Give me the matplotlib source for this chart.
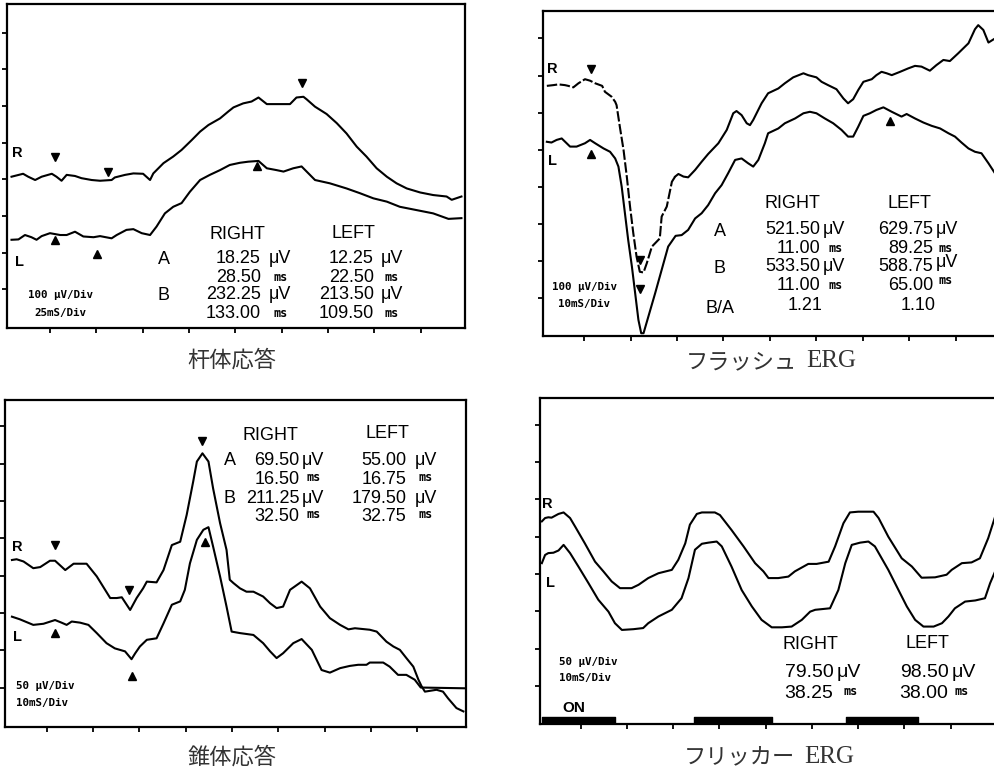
import matplotlib
matplotlib.use("Agg")
import matplotlib.pyplot as plt

# All traces in screen divisions
# (x: time divisions, y: amplitude divisions)

# ---- 杆体応答 (rod response), 100 uV/div, 25 ms/div
rod_r_x = [0.17, 0.42, 0.53, 0.68, 0.82, 1.04, 1.14, 1.25, 1.36, 1.54, 1.68, 1.90, 2.08, 2.33, 2.40, 2.62, 2.80, 3.01,
           3.16, 3.23, 3.45, 3.66, 3.84, 4.06, 4.24, 4.42, 4.67, 4.85, 4.96, 5.17, 5.35, 5.50, 5.68, 5.89, 6.18, 6.32,
           6.47, 6.54, 6.72, 6.97, 7.19, 7.40, 7.62, 7.83, 8.05, 8.27, 8.48, 8.70, 8.99, 9.27, 9.56, 9.67, 9.88]
rod_r_y = [4.07, 4.15, 4.07, 3.98, 4.07, 4.15, 4.07, 3.96, 4.12, 4.09, 4.03, 3.98, 3.96, 3.98, 4.05, 4.12, 4.16, 4.15,
           3.98, 4.16, 4.44, 4.62, 4.80, 5.07, 5.30, 5.48, 5.66, 5.85, 5.96, 6.07, 6.12, 6.23, 6.05, 6.05, 6.05, 6.23,
           6.25, 6.18, 5.98, 5.78, 5.53, 5.25, 4.89, 4.62, 4.30, 4.07, 3.89, 3.75, 3.64, 3.57, 3.53, 3.44, 3.53]
rod_l_x = [0.17, 0.32, 0.46, 0.60, 0.71, 0.82, 1.00, 1.22, 1.36, 1.54, 1.72, 1.94, 2.08, 2.33, 2.44, 2.65, 2.80, 2.98,
           3.16, 3.30, 3.48, 3.66, 3.84, 4.02, 4.24, 4.45, 4.67, 4.88, 5.10, 5.28, 5.50, 5.68, 5.89, 6.04, 6.25, 6.43,
           6.72, 7.04, 7.40, 7.69, 7.98, 8.27, 8.55, 8.91, 9.27, 9.60, 9.88]
rod_l_y = [2.35, 2.36, 2.48, 2.42, 2.35, 2.45, 2.53, 2.48, 2.48, 2.57, 2.44, 2.42, 2.45, 2.39, 2.48, 2.62, 2.64, 2.53,
           2.48, 2.71, 3.07, 3.25, 3.35, 3.66, 3.98, 4.12, 4.25, 4.39, 4.45, 4.48, 4.50, 4.30, 4.25, 4.21, 4.30, 4.35,
           3.98, 3.89, 3.75, 3.62, 3.48, 3.39, 3.25, 3.16, 3.07, 2.92, 2.94]
rod_r_mark_x = [1.11, 2.26, 6.43]
rod_r_mark_y = [4.62, 4.21, 6.62]
rod_l_mark_x = [1.11, 2.02, 5.47]
rod_l_mark_y = [2.35, 1.95, 4.35]
rod_right = ["18.25", "28.50", "232.25", "133.00"]
rod_left = ["12.25", "22.50", "213.50", "109.50"]

# ---- フラッシュ ERG, 100 uV/div, 10 ms/div
flash_r_x = [0.20, 0.34, 0.45, 0.59, 0.66, 0.77, 0.88, 1.02, 1.13, 1.24, 1.39, 1.45, 1.59, 1.67, 1.70, 1.77, 1.85,
             1.92, 1.99, 2.06, 2.13, 2.20, 2.28, 2.35, 2.46, 2.63, 2.67, 2.78, 2.89, 2.96, 3.03, 3.14, 3.24, 3.39,
             3.53, 3.67, 3.89, 4.07, 4.21, 4.28, 4.39, 4.50, 4.57, 4.64, 4.82, 4.96, 5.18, 5.32, 5.50, 5.72, 5.82,
             6.00, 6.11, 6.25, 6.43, 6.58, 6.68, 6.79, 6.90, 7.01, 7.19, 7.29, 7.40, 7.51, 7.62, 7.80, 7.97, 8.12,
             8.26, 8.44, 8.58, 8.73, 8.87, 9.05, 9.27, 9.41, 9.48, 9.59, 9.70, 9.84]
flash_r_y = [6.72, 6.74, 6.76, 6.74, 6.72, 6.68, 6.79, 6.90, 6.86, 6.79, 6.72, 6.56, 6.43, 6.29, 6.20, 5.62, 4.99,
             4.27, 3.46, 2.74, 2.11, 1.70, 1.68, 1.93, 2.38, 2.60, 3.19, 3.46, 4.13, 4.27, 4.34, 4.27, 4.25, 4.45,
             4.67, 4.88, 5.17, 5.53, 5.98, 6.04, 5.93, 5.71, 5.66, 5.80, 6.25, 6.52, 6.65, 6.79, 6.95, 7.06, 7.01,
             6.95, 6.83, 6.74, 6.63, 6.38, 6.25, 6.36, 6.61, 6.83, 6.90, 7.01, 7.10, 7.06, 7.01, 7.10, 7.19, 7.26,
             7.24, 7.13, 7.28, 7.42, 7.39, 7.60, 7.87, 8.25, 8.36, 8.23, 7.89, 8.00]
flash_l_x = [0.20, 0.30, 0.41, 0.52, 0.70, 0.84, 1.02, 1.13, 1.24, 1.42, 1.56, 1.67, 1.74, 1.81, 1.88, 1.95, 2.03,
             2.10, 2.17, 2.23, 2.28, 2.53, 2.81, 2.97, 3.10, 3.24, 3.39, 3.53, 3.67, 3.82, 3.96, 4.10, 4.25, 4.39,
             4.53, 4.64, 4.75, 4.89, 4.96, 5.18, 5.32, 5.54, 5.72, 5.86, 6.00, 6.18, 6.36, 6.54, 6.68, 6.79, 6.90,
             7.01, 7.15, 7.29, 7.44, 7.62, 7.83, 7.94, 8.12, 8.30, 8.48, 8.66, 8.84, 8.98, 9.12, 9.27, 9.41, 9.55,
             9.70, 9.84]
flash_l_y = [5.21, 5.19, 5.26, 5.30, 5.08, 5.08, 5.17, 5.26, 5.17, 5.03, 4.94, 4.76, 4.54, 4.00, 3.28, 2.56, 1.84,
             1.12, 0.40, 0.04, 0.04, 1.12, 2.38, 2.67, 2.69, 2.83, 3.14, 3.28, 3.50, 3.82, 4.04, 4.36, 4.72, 4.76,
             4.63, 4.54, 4.72, 5.17, 5.44, 5.57, 5.71, 5.84, 5.98, 6.02, 5.98, 5.84, 5.71, 5.53, 5.35, 5.35, 5.62,
             5.91, 5.98, 6.07, 6.14, 6.02, 5.89, 5.96, 5.84, 5.73, 5.64, 5.57, 5.44, 5.35, 5.19, 5.03, 4.94, 4.90,
             4.63, 4.36]
flash_r_dashed_until = 2.96  # the early part of the R trace prints broken
flash_r_mark_x = [1.15, 2.20]
flash_r_mark_y = [7.17, 2.02]
flash_l_up_x = [1.15, 7.58]
flash_l_up_y = [4.88, 5.78]
flash_l_down_x = [2.20]
flash_l_down_y = [1.23]
flash_right = ["521.50", "11.00", "533.50", "11.00"]
flash_left = ["629.75", "89.25", "588.75", "65.00"]
flash_ratio = ["1.21", "1.10"]

# ---- 錐体応答 (cone response), 50 uV/div, 10 ms/div
cone_r_x = [0.25, 0.35, 0.50, 0.71, 0.86, 1.07, 1.18, 1.40, 1.58, 1.86, 2.08, 2.37, 2.51, 2.62, 2.80, 2.94, 3.08,
            3.16, 3.37, 3.52, 3.70, 3.88, 4.02, 4.16, 4.24, 4.36, 4.49, 4.59, 4.74, 4.88, 4.95, 5.03, 5.17, 5.31,
            5.46, 5.67, 5.82, 5.96, 6.10, 6.25, 6.50, 6.68, 6.90, 7.11, 7.33, 7.51, 7.65, 7.97, 8.12, 8.33, 8.48,
            8.62, 8.76, 8.91, 9.02, 9.09, 9.16, 9.41, 9.55, 9.66, 9.84, 9.99]
cone_r_y = [4.42, 4.44, 4.38, 4.20, 4.23, 4.40, 4.40, 4.15, 4.32, 4.32, 3.98, 3.40, 3.40, 3.42, 3.08, 3.40, 3.66,
            3.84, 3.82, 4.15, 4.82, 4.91, 5.63, 6.52, 7.06, 7.28, 7.06, 6.34, 5.41, 4.69, 3.89, 3.80, 3.66, 3.57,
            3.57, 3.44, 3.26, 3.13, 3.17, 3.62, 3.84, 3.66, 3.17, 2.86, 2.68, 2.56, 2.59, 2.55, 2.50, 2.23, 2.10,
            2.01, 1.79, 1.56, 1.21, 1.03, 0.89, 0.94, 0.89, 0.71, 0.45, 0.36]
cone_l_x = [0.25, 0.42, 0.71, 0.93, 1.18, 1.32, 1.43, 1.54, 1.72, 1.90, 2.08, 2.29, 2.47, 2.69, 2.83, 2.91, 3.01,
            3.16, 3.37, 3.52, 3.70, 3.88, 3.98, 4.09, 4.24, 4.38, 4.49, 4.59, 4.74, 4.88, 4.99, 5.17, 5.46, 5.67,
            5.82, 5.96, 6.10, 6.32, 6.50, 6.72, 6.93, 7.11, 7.33, 7.54, 7.72, 7.90, 7.97, 8.26, 8.40, 8.58, 8.76,
            8.94, 9.07, 10.02]
cone_l_y = [2.90, 2.83, 2.68, 2.71, 2.81, 2.74, 2.68, 2.77, 2.74, 2.68, 2.46, 2.19, 2.05, 1.97, 1.76, 1.92, 2.10,
            2.28, 2.32, 2.72, 3.22, 3.31, 3.62, 4.33, 4.96, 5.23, 5.30, 4.78, 3.98, 3.17, 2.50, 2.46, 2.41, 2.19,
            1.97, 1.79, 1.92, 2.19, 2.30, 2.01, 1.47, 1.40, 1.52, 1.58, 1.61, 1.61, 1.67, 1.67, 1.56, 1.34, 1.34,
            1.21, 1.00, 0.98]
cone_r_mark_x = [1.18, 2.78, 4.36]
cone_r_mark_y = [4.82, 3.62, 7.62]
cone_l_mark_x = [1.18, 2.83, 4.41]
cone_l_mark_y = [2.47, 1.31, 4.89]
cone_right = ["69.50", "16.50", "211.25", "32.50"]
cone_left = ["55.00", "16.75", "179.50", "32.75"]

# ---- フリッカー ERG, 50 uV/div, 10 ms/div
flick_r_x = [0.16, 0.23, 0.30, 0.37, 0.52, 0.63, 0.77, 0.88, 1.09, 1.31, 1.49, 1.67, 1.85, 2.10, 2.25, 2.46, 2.68,
             2.97, 3.11, 3.26, 3.36, 3.51, 3.62, 3.90, 4.01, 4.26, 4.52, 4.77, 4.95, 5.06, 5.27, 5.49, 5.63, 5.92,
             6.10, 6.36, 6.50, 6.68, 6.82, 7.00, 7.33, 7.44, 7.65, 7.94, 8.16, 8.37, 8.66, 8.91, 9.02, 9.24, 9.45,
             9.63, 9.81, 9.96]
flick_r_y = [5.41, 5.50, 5.52, 5.51, 5.61, 5.65, 5.50, 5.27, 4.82, 4.33, 4.07, 3.80, 3.62, 3.62, 3.71, 3.89, 4.02,
             4.11, 4.38, 4.82, 5.32, 5.61, 5.65, 5.65, 5.58, 5.18, 4.74, 4.29, 4.07, 3.89, 3.89, 3.93, 4.07, 4.27,
             4.27, 4.33, 4.74, 5.36, 5.65, 5.67, 5.67, 5.50, 5.00, 4.42, 4.20, 3.90, 3.91, 3.98, 4.11, 4.29, 4.31,
             4.42, 4.96, 5.54]
flick_l_x = [0.16, 0.23, 0.30, 0.41, 0.52, 0.63, 0.77, 0.95, 1.17, 1.38, 1.60, 1.74, 1.89, 2.14, 2.35, 2.46, 2.68,
             2.97, 3.18, 3.33, 3.47, 3.62, 3.76, 3.94, 4.05, 4.26, 4.48, 4.70, 4.91, 5.13, 5.35, 5.56, 5.78, 5.96,
             6.07, 6.39, 6.57, 6.72, 6.86, 7.04, 7.22, 7.36, 7.65, 7.87, 8.05, 8.23, 8.41, 8.63, 8.81, 8.95, 9.09,
             9.31, 9.53, 9.74, 9.85, 9.96]
flick_l_y = [4.29, 4.51, 4.56, 4.57, 4.63, 4.78, 4.56, 4.20, 3.75, 3.31, 2.99, 2.68, 2.50, 2.52, 2.55, 2.68, 2.86,
             3.04, 3.35, 3.89, 4.65, 4.81, 4.84, 4.87, 4.74, 4.20, 3.57, 3.13, 2.77, 2.57, 2.57, 2.59, 2.77, 2.99,
             3.04, 3.08, 3.57, 4.29, 4.78, 4.84, 4.87, 4.74, 4.11, 3.57, 3.13, 2.77, 2.59, 2.59, 2.68, 2.86, 3.08,
             3.26, 3.29, 3.35, 3.75, 4.07]
flick_on_start = [0.16, 3.45, 6.74]
flick_on_end = [1.74, 5.14, 8.30]
flick_right = ["79.50", "38.25"]
flick_left = ["98.50", "38.00"]

W, H = 995, 776
TABLE_FONT = ["Liberation Sans", "DejaVu Sans"]
SCALE_FONT = ["DejaVu Sans Mono"]
JP_FONT = ["Noto Sans CJK JP", "DejaVu Sans"]
LW = 1.5
TSIZE = 13

fig = plt.figure(figsize=(W / 100, H / 100), dpi=100)


def make_panel(box, xlim, ylim):
    # box is (left, top, right, bottom) in figure pixels
    left, top, right, bottom = box
    ax = fig.add_axes([left / W, 1 - bottom / H, (right - left) / W, (bottom - top) / H])
    ax.set_xlim(xlim)
    ax.set_ylim(ylim)
    ax.set_xticks(range(1, 10))
    ax.set_yticks(range(1, 9))
    ax.tick_params(direction="out", length=3.5, width=1.3, labelbottom=False, labelleft=False)
    for s in ax.spines.values():
        s.set_linewidth(1.6)
    return ax


def trace(ax, x, y, **kw):
    ax.plot(x, y, color="black", lw=LW, solid_joinstyle="round", **kw)


def marks(ax, x, y, m):
    ax.plot(x, y, ls="none", marker=m, ms=5.5, color="black")


def txt(ax, x, y, s, ha="left", size=TSIZE, **kw):
    kw.setdefault("family", TABLE_FONT)
    ax.text(x, y, s, ha=ha, va="center", fontsize=size, color="black", **kw)


def small(ax, x, y, s, ha="left"):
    txt(ax, x, y, s, ha=ha, size=7.8, family=SCALE_FONT, weight="bold")


def eye(ax, r_pos, l_pos):
    txt(ax, r_pos[0], r_pos[1], "R", size=10.5, weight="bold")
    txt(ax, l_pos[0], l_pos[1], "L", size=10.5, weight="bold")


def unit(ax, x, y, s, size=TSIZE):
    if s == "ms":
        txt(ax, x, y, s, size=8.5, family=SCALE_FONT, weight="bold")
    else:
        txt(ax, x, y, s, size=size)


def caption(x_split, y, jp, latin=None):
    # Japanese part ends at x_split, the latin part (serif) follows it
    if latin is None:
        fig.text(x_split / W, 1 - y / H, jp, ha="center", va="center", fontsize=16,
                 family=JP_FONT, color="#333333")
        return
    fig.text(x_split / W, 1 - y / H, jp, ha="right", va="center", fontsize=16,
             family=JP_FONT, color="#333333")
    fig.text((x_split + 9) / W, 1 - (y - 1) / H, latin, ha="left", va="center", fontsize=18,
             family=["Liberation Serif", "DejaVu Serif"], color="#333333")


# ---------------- rod response
ax1 = make_panel((7.3, 4, 465, 328.3), (0.079, 9.957), (-0.064, 8.78))
trace(ax1, rod_r_x, rod_r_y)
trace(ax1, rod_l_x, rod_l_y)
marks(ax1, rod_r_mark_x, rod_r_mark_y, "v")
marks(ax1, rod_l_mark_x, rod_l_mark_y, "^")
eye(ax1, (0.17, 4.73), (0.24, 1.75))
small(ax1, 1.22, 0.85, "100 μV/Div", ha="center")
small(ax1, 1.22, 0.36, "25mS/Div", ha="center")
txt(ax1, 5.04, 2.50, "RIGHT", ha="center")
txt(ax1, 7.55, 2.53, "LEFT", ha="center")
txt(ax1, 3.45, 1.82, "A", ha="center")
txt(ax1, 3.45, 0.82, "B", ha="center")
rows1 = [1.85, 1.33, 0.85, 0.35]
units1 = ["μV", "ms", "μV", "ms"]
for yv, r, l, u in zip(rows1, rod_right, rod_left, units1):
    txt(ax1, 5.55, yv, r, ha="right")
    txt(ax1, 7.99, yv, l, ha="right")
    unit(ax1, 5.72 if u == "μV" else 5.82, yv, u)
    unit(ax1, 8.13 if u == "μV" else 8.23, yv, u)
caption(232, 360, "杆体応答")

# ---------------- flash ERG
ax2 = make_panel((542.7, 10.7, 1001, 336), (0.111, 9.97), (-0.035, 8.75))
dash_x = [x for x in flash_r_x if x <= flash_r_dashed_until]
dash_y = flash_r_y[:len(dash_x)]
trace(ax2, dash_x, dash_y, ls=(0, (5, 1.2)))
trace(ax2, flash_r_x[len(dash_x) - 1:], flash_r_y[len(dash_x) - 1:])
trace(ax2, flash_l_x, flash_l_y)
marks(ax2, flash_r_mark_x, flash_r_mark_y, "v")
marks(ax2, flash_l_up_x, flash_l_up_y, "^")
marks(ax2, flash_l_down_x, flash_l_down_y, "v")
eye(ax2, (0.21, 7.17), (0.23, 4.70))
small(ax2, 1.01, 1.28, "100 μV/Div", ha="center")
small(ax2, 1.01, 0.82, "10mS/Div", ha="center")
txt(ax2, 5.48, 3.53, "RIGHT", ha="center")
txt(ax2, 8.01, 3.55, "LEFT", ha="center")
txt(ax2, 3.92, 2.80, "A", ha="center")
txt(ax2, 3.92, 1.79, "B", ha="center")
txt(ax2, 3.92, 0.71, "B/A", ha="center")
rows2 = [2.83, 2.33, 1.84, 1.34]
for i, (yv, r, l) in enumerate(zip(rows2, flash_right, flash_left)):
    u = "μV" if i % 2 == 0 else "ms"
    txt(ax2, 6.08, yv, r, ha="right")
    txt(ax2, 8.51, yv, l, ha="right")
    unit(ax2, 6.13 if u == "μV" else 6.25, yv, u)
    unit(ax2, 8.56 if u == "μV" else 8.62, yv + (0.12 if i >= 2 else 0), u)
txt(ax2, 5.75, 0.78, flash_ratio[0], ha="center")
txt(ax2, 8.19, 0.78, flash_ratio[1], ha="center")
caption(797, 362, "フラッシュ", "ERG")

# ---------------- cone response
ax3 = make_panel((5, 400, 465.7, 726.7), (0.10, 10.04), (-0.05, 8.71))
trace(ax3, cone_r_x, cone_r_y)
trace(ax3, cone_l_x, cone_l_y)
marks(ax3, cone_r_mark_x, cone_r_mark_y, "v")
marks(ax3, cone_l_mark_x, cone_l_mark_y, "^")
eye(ax3, (0.25, 4.78), (0.28, 2.35))
small(ax3, 0.34, 1.04, "50 μV/Div")
small(ax3, 0.34, 0.58, "10mS/Div")
txt(ax3, 5.83, 7.77, "RIGHT", ha="center")
txt(ax3, 8.35, 7.80, "LEFT", ha="center")
txt(ax3, 4.95, 7.09, "A", ha="center")
txt(ax3, 4.95, 6.08, "B", ha="center")
rows3 = [7.10, 6.57, 6.08, 5.58]
for i, (yv, r, l) in enumerate(zip(rows3, cone_right, cone_left)):
    u = "μV" if i % 2 == 0 else "ms"
    txt(ax3, 6.46, yv, r, ha="right")
    txt(ax3, 8.76, yv, l, ha="right")
    du = 0 if u == "μV" else 0.05
    unit(ax3, 6.51 if u == "μV" else 6.61, yv + du, u)
    unit(ax3, 8.94 if u == "μV" else 9.02, yv + du, u)
caption(232, 757, "錐体応答")

# ---------------- flicker ERG
ax4 = make_panel((540, 398.3, 997, 724.3), (0.12, 10.0), (-0.03, 8.71))
trace(ax4, flick_r_x, flick_r_y)
trace(ax4, flick_l_x, flick_l_y)
ax4.broken_barh([(s, e - s) for s, e in zip(flick_on_start, flick_on_end)], (-0.03, 0.2), color="black")
txt(ax4, 0.86, 0.40, "ON", ha="center", size=11, weight="bold")
eye(ax4, (0.17, 5.87), (0.25, 3.77))
small(ax4, 0.52, 1.63, "50 μV/Div")
small(ax4, 0.52, 1.20, "10mS/Div")
txt(ax4, 5.96, 2.10, "RIGHT", ha="center")
txt(ax4, 8.50, 2.13, "LEFT", ha="center")
rows4 = [1.36, 0.79]
for i, (yv, r, l) in enumerate(zip(rows4, flick_right, flick_left)):
    u = "μV" if i == 0 else "ms"
    txt(ax4, 6.46, yv, r, ha="right", size=14)
    txt(ax4, 8.95, yv, l, ha="right", size=14)
    du = 0 if i == 0 else 0.06
    unit(ax4, 6.53 if i == 0 else 6.68, yv + du, u, size=14)
    unit(ax4, 9.02 if i == 0 else 9.09, yv + du, u, size=14)
caption(795, 758, "フリッカー", "ERG")

fig.savefig("out.png", dpi=100)
